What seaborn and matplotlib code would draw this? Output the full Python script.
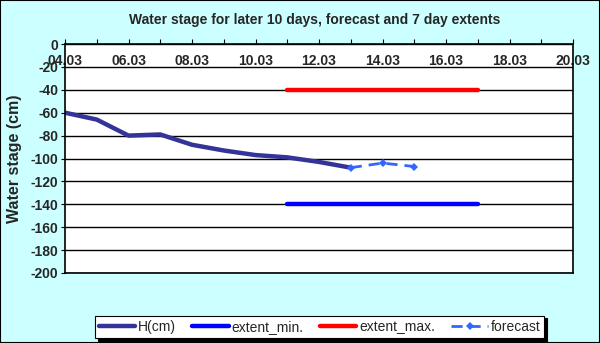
import matplotlib
matplotlib.use("Agg")
import matplotlib.pyplot as plt
import seaborn as sns
import pandas as pd
from matplotlib.patches import Rectangle

sns.set_theme(style="white")
plt.rcParams['font.family'] = ['Liberation Sans', 'DejaVu Sans']

# Data (day of March)
h_days = [4, 5, 6, 7, 8, 9, 10, 11, 12, 13]
h_vals = [-60, -66, -80, -79, -88, -93, -97, -99, -103, -108]
ext_days = [11, 17]
ext_min = [-140, -140]
ext_max = [-40, -40]
fc_days = [13, 14, 15]
fc_vals = [-108, -104, -107]
xtick_vals = [4, 6, 8, 10, 12, 14, 16, 18, 20]
xtick_labels = ["04.03", "06.03", "08.03", "10.03", "12.03", "14.03", "16.03", "18.03", "20.03"]
ytick_vals = list(range(0, -201, -20))

fig = plt.figure(figsize=(6, 3.43), dpi=100)
fig.patch.set_facecolor('#ccffff')
ax = fig.add_axes([65/600, 1-273/343, (573-65)/600, (273-44)/343])
ax.set_facecolor('white')

sns.lineplot(x=h_days, y=h_vals, ax=ax, color='#333399', lw=3.2, label='H(cm)',
             solid_capstyle='round', solid_joinstyle='round')
sns.lineplot(x=ext_days, y=ext_min, ax=ax, color='#0000ff', lw=3.2, label='extent_min.')
sns.lineplot(x=ext_days, y=ext_max, ax=ax, color='#ff0000', lw=3.2, label='extent_max.')
sns.lineplot(x=fc_days, y=fc_vals, ax=ax, color='#3366ff', lw=2, label='forecast',
             marker='D', markersize=4, markeredgewidth=0, dashes=(4, 2.5))

ax.set_xlim(4, 20)
ax.set_ylim(-200, 0)
ax.set_xticks(xtick_vals)
ax.set_xticklabels(xtick_labels)
ax.set_xticks(range(4, 21), minor=True)
ax.set_yticks(ytick_vals)
ax.set_yticklabels([str(v) for v in ytick_vals])
ax.yaxis.grid(True, color='black', lw=1)
ax.xaxis.grid(False)
ax.xaxis.tick_top()
ax.tick_params(axis='x', which='both', top=True, bottom=False, labeltop=True, labelbottom=False,
               direction='out', length=3.5, width=0.8, color='black', pad=-21,
               labelsize=10)
ax.tick_params(axis='y', left=True, direction='out', length=3, width=0.8, color='black',
               labelsize=10, pad=2)
for lbl in ax.get_xticklabels() + ax.get_yticklabels():
    lbl.set_fontweight('bold')
for s in ax.spines.values():
    s.set_color('black')
    s.set_linewidth(1.2)
ax.set_xlabel('')
ax.set_ylabel('Water stage (cm)', fontsize=11.5, fontweight='bold', labelpad=2)
ax.yaxis.set_label_coords(-0.084, 0.5)

fig.text(315/600, 1-20/343, 'Water stage for later 10 days, forecast and 7 day extents',
         ha='center', va='center', fontsize=10, fontweight='bold')

handles, labels = ax.get_legend_handles_labels()
ax.get_legend().remove()
leg = fig.legend(handles, labels, loc='center', bbox_to_anchor=(319.5/600, 1-326.7/343),
                 ncol=4, frameon=True, fancybox=False, shadow={'color': 'black', 'alpha': 1},
                 edgecolor='black', framealpha=1, fontsize=10, handlelength=2.6,
                 handletextpad=0.2, columnspacing=1.2, borderpad=0.3, borderaxespad=0)
leg.get_frame().set_linewidth(0.8)

fig.patches.append(Rectangle((0, 0), 1, 1, transform=fig.transFigure, fill=False,
                             edgecolor='black', lw=1.5))

fig.savefig('out.png', dpi=100, facecolor=fig.get_facecolor())
